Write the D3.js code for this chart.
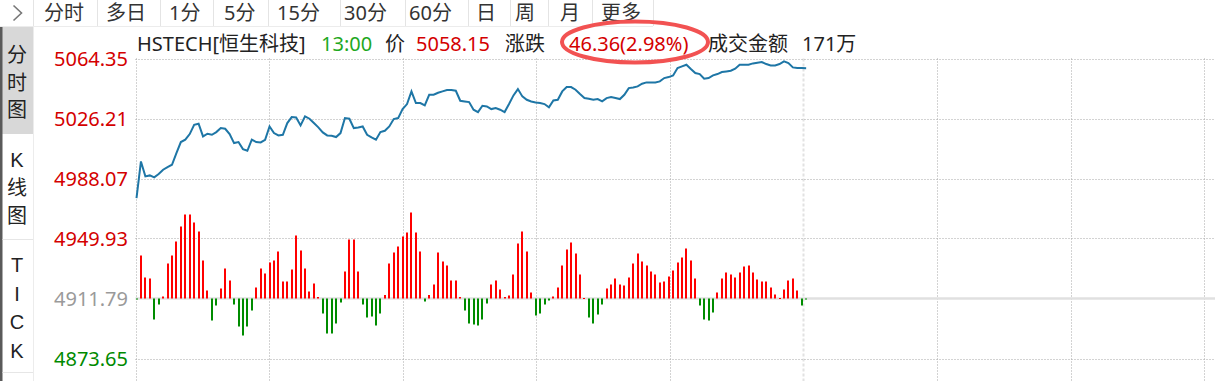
<!DOCTYPE html>
<html>
<head>
<meta charset="utf-8">
<script src="https://cdn.jsdelivr.net/npm/d3@7"></script>
<style>
body { margin: 0; background: #fff; overflow: hidden; }
svg text { font-family: "Noto Sans", "Noto Sans CJK SC", sans-serif; }
svg text.side { font-family: "Liberation Sans", "Noto Sans CJK SC", sans-serif; }
</style>
</head>
<body>
<div id="chart"></div>
<script>
// price axis ticks (top to bottom), previous close is the grey one
const priceTicks = [5064.35, 5026.21, 4988.07, 4949.93, 4911.79, 4873.65];
const prevClose = 4911.79;

// one value per minute, 9:30 .. 12:00 plus the 13:00 print
const prices = [
  4975.62, 4998.93, 4989.40, 4990.03, 4988.76, 4990.88, 4993.63, 4995.33, 4996.81, 5004.23,
  5011.22, 5012.71, 5016.31, 5022.24, 5022.88, 5014.82, 5016.52, 5015.88, 5017.58, 5020.12,
  5019.70, 5016.31, 5010.59, 5011.22, 5006.77, 5005.71, 5012.71, 5011.22, 5011.01, 5012.71,
  5021.18, 5016.94, 5015.46, 5015.88, 5023.30, 5027.12, 5026.90, 5021.82, 5027.54, 5026.06,
  5023.30, 5020.55, 5017.37, 5015.46, 5015.25, 5014.40, 5016.94, 5026.48, 5026.06, 5020.12,
  5020.55, 5021.18, 5015.88, 5014.19, 5012.71, 5017.58, 5018.43, 5021.18, 5025.84, 5026.48,
  5032.20, 5035.38, 5043.43, 5036.02, 5036.02, 5034.53, 5041.31, 5041.31, 5042.58, 5043.43,
  5044.28, 5044.28, 5043.85, 5037.50, 5037.07, 5036.65, 5031.78, 5030.29, 5034.32, 5033.90,
  5032.20, 5032.84, 5031.78, 5030.29, 5035.38, 5040.89, 5044.91, 5040.25, 5038.13, 5037.07,
  5036.44, 5036.02, 5035.38, 5033.26, 5037.71, 5038.13, 5043.43, 5046.19, 5046.19, 5044.49,
  5041.74, 5039.19, 5038.77, 5038.13, 5038.56, 5037.07, 5039.19, 5039.83, 5039.19, 5038.56,
  5041.31, 5045.55, 5045.97, 5046.61, 5048.31, 5049.15, 5049.15, 5049.15, 5049.79, 5051.91,
  5052.54, 5053.60, 5058.26, 5059.32, 5060.38, 5057.63, 5055.09, 5054.45, 5051.48, 5051.91,
  5053.60, 5054.45, 5055.72, 5056.15, 5056.57, 5057.84, 5060.38, 5060.38, 5060.38, 5061.23,
  5061.65, 5062.08, 5060.81, 5059.96, 5059.96, 5060.81, 5062.50, 5061.44, 5058.69, 5058.26,
  5058.26, 5058.15
];

// red / green strength bars, one per minute
const flows = [
  -1, 43, 21, 20, -21, -6, 2, 35, 43, 57,
  72, 84, 84, 76, 67, 38, 8, -22, -7, 10,
  30, 18, -6, -28, -37, -28, -12, 11, 30, 25,
  36, 38, 47, 17, 17, 29, 63, 48, 30, 7,
  15, 1.5, -15, -35, -35, -25, -4, 27, 59, 59,
  27, -6, -19, -18, -27, -15, 3.5, 35, 46, 52,
  62, 66, 86, 66, 47, -3, 3.5, 14, 46, 37,
  33, 18, 18, 1.5, -12, -25, -26, -27, -21, -5,
  14, 18, 9, 1.5, 3, 24, 55, 67, 47, 6,
  -17, -15, -6, -2, 2, 11, 33, 49, 56, 45,
  24, 0.5, -19, -25, -16, -6, 10, 14, 20, 14,
  13, 21, 35, 45, 37, 33, 27, 24, 16, 17,
  22, 28, 36, 41, 50, 38, 20, -7, -21, -22,
  -14, 6, 20, 26, 24, 21, 26, 32, 33, 26,
  19, 17, 17, 11, 4, 0.5, 9, 18, 20, 8,
  -7, -1
];

const toolbarItems = ["分时", "多日", "1分", "5分", "15分", "30分", "60分", "日", "周", "月", "更多"];
const sideTabs = [["分", "时", "图"], ["K", "线", "图"], ["T", "I", "C", "K"]];
const headerTexts = ["HSTECH[恒生科技]", "13:00", "价", "5058.15", "涨跌", "46.36(2.98%)", "成交金额", "171万"];

var W = 1215, H = 381;
var plotLeft = 135.5, plotRight = 1204.3, plotTop = 58.5;
var fs = 20;

var svg = d3.select("#chart")
  .append("svg")
    .attr("width", W)
    .attr("height", H);

// scales
var x = d3.scaleLinear().domain([0, 241]).range([plotLeft, plotRight]);
var y = d3.scaleLinear()
  .domain([priceTicks[priceTicks.length - 1], priceTicks[0]])
  .range([358.5, 58.5]);
var yb = d3.scaleLinear().domain([-60, 60]).range([358.5, 238.5]);

// ---------- toolbar ----------
var tb = svg.append("g");
tb.append("path")
  .attr("d", "M13.5,5.5 L21.5,13 L13.5,20.5")
  .attr("fill", "none")
  .attr("stroke", "#777")
  .attr("stroke-width", 1.6);

var tbTextX = [44, 106, 169, 224, 277, 344, 409, 476, 515, 560, 601];
var tbBorders = [33, 97, 160, 213, 268, 340, 405, 468, 510, 548, 592, 653];
tbBorders.forEach(function(bx) {
  tb.append("line").attr("x1", bx + 0.5).attr("x2", bx + 0.5).attr("y1", 0).attr("y2", 26)
    .attr("stroke", "#e4e4e4");
});
tb.selectAll("text")
  .data(toolbarItems)
  .join("text")
    .attr("x", (d, i) => tbTextX[i])
    .attr("y", 19.5)
    .attr("font-size", fs)
    .attr("fill", "#333")
    .text(d => d);
tb.append("line").attr("x1", 0).attr("x2", 653).attr("y1", 26.5).attr("y2", 26.5)
  .attr("stroke", "#ececec");

// ---------- left side tabs ----------
var side = svg.append("g");
side.append("rect").attr("x", 0).attr("y", 27).attr("width", 33).attr("height", 107)
  .attr("fill", "#d8d8d8");
side.append("rect").attr("x", 0).attr("y", 27).attr("width", 2.5).attr("height", H - 27)
  .attr("fill", "#5a5a5a");
side.append("line").attr("x1", 33.5).attr("x2", 33.5).attr("y1", 27).attr("y2", H)
  .attr("stroke", "#ececec");
[239.5, 372.5].forEach(function(ly) {
  side.append("line").attr("x1", 2.5).attr("x2", 33).attr("y1", ly).attr("y2", ly)
    .attr("stroke", "#e6e6e6");
});
var tabStart = [55, 160, 265], tabStep = [27.5, 28, 28.5];
sideTabs.forEach(function(chars, k) {
  side.selectAll(null)
    .data(chars)
    .join("text")
      .attr("class", "side")
      .attr("x", 17)
      .attr("y", (d, i) => tabStart[k] + i * tabStep[k])
      .attr("text-anchor", "middle")
      .attr("dominant-baseline", "central")
      .attr("font-size", fs)
      .attr("fill", "#222")
      .text(d => d);
});

// ---------- header ----------
var headerX = [137, 321, 385, 416, 505, 569, 708, 802];
var headerColor = ["#222", "#1ea81e", "#222", "#d40000", "#222", "#d40000", "#222", "#222"];
var circled = 5;
headerTexts.forEach(function(txt, i) {
  svg.append("text")
    .attr("x", headerX[i])
    .attr("y", 51)
    .attr("font-size", fs)
    .attr("fill", headerColor[i])
    .text(txt);
});

// ---------- grid ----------
var grid = svg.append("g");
var colW = (plotRight - plotLeft) / 8;
d3.range(9).forEach(function(k) {
  var gx = Math.round(plotLeft + k * colW) + 0.5;
  if (k === 5) {
    grid.append("line")
      .attr("x1", gx - 1).attr("x2", gx - 1).attr("y1", plotTop).attr("y2", H)
      .attr("stroke", "#e2e2e2").attr("stroke-width", 2)
      .attr("stroke-dasharray", "3,2");
  } else {
    grid.append("line")
      .attr("x1", gx).attr("x2", gx).attr("y1", plotTop).attr("y2", H)
      .attr("stroke", "#a6a6a6")
      .attr("stroke-dasharray", "1,2");
  }
});
priceTicks.forEach(function(t) {
  var gy = Math.round(y(t)) + 0.5;
  if (t === prevClose) {
    grid.append("line")
      .attr("x1", plotLeft).attr("x2", W).attr("y1", y(t)).attr("y2", y(t))
      .attr("stroke", "#e0e0e0").attr("stroke-width", 2.5);
  } else {
    grid.append("line")
      .attr("x1", plotLeft).attr("x2", W).attr("y1", gy).attr("y2", gy)
      .attr("stroke", "#a6a6a6")
      .attr("stroke-dasharray", "1,2");
  }
});

// y labels
svg.append("g")
  .selectAll("text")
  .data(priceTicks)
  .join("text")
    .attr("x", 128)
    .attr("y", d => y(d))
    .attr("text-anchor", "end")
    .attr("dominant-baseline", "central")
    .attr("font-size", fs)
    .attr("fill", d => d > prevClose ? "#d40000" : (d < prevClose ? "#008a00" : "#9a9a9a"))
    .text(d => d.toFixed(2));

// ---------- bars ----------
svg.append("g")
  .selectAll("rect")
  .data(flows)
  .join("rect")
    .attr("x", (d, i) => Math.round(x(i)))
    .attr("width", 2)
    .attr("y", d => d >= 0 ? yb(d) : yb(0))
    .attr("height", d => Math.max(1, Math.abs(yb(d) - yb(0))))
    .attr("fill", d => d >= 0 ? "#ff0000" : "#008c00");

// ---------- price line ----------
svg.append("path")
  .datum(prices)
  .attr("d", d3.line()
    .x((d, i) => x(i) + 1)
    .y(d => y(d)))
  .attr("fill", "none")
  .attr("stroke", "#1e76a6")
  .attr("stroke-width", 2);

// ---------- red ellipse round the change ----------
svg.append("ellipse")
  .attr("cx", headerX[circled] + 66)
  .attr("cy", 42)
  .attr("rx", 73)
  .attr("ry", 20.5)
  .attr("fill", "none")
  .attr("stroke", "#f25252")
  .attr("stroke-width", 4);
</script>
</body>
</html>
